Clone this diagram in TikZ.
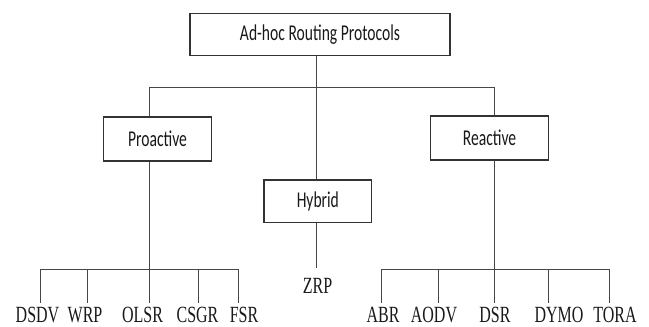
\documentclass[tikz,border=0pt]{standalone}
\usepackage{fontspec}
\usepackage{graphicx}
\setmainfont{Carlito}
\newfontfamily\lblfont{Liberation Serif}
\newcommand{\vstretch}[1]{\scalebox{1}[1.45]{#1}}
\begin{document}
\begin{tikzpicture}[x=1pt,y=1pt,
  box/.style={draw=black!80,line width=1.1pt,rectangle,inner sep=0pt,
    font=\fontsize{15.6}{18}\selectfont,text=black!90},
  conn/.style={draw=black!72,line width=0.9pt},
  leaf/.style={anchor=base,inner sep=0pt,font=\lblfont\fontsize{16}{18}\selectfont,text=black!90}]
\useasboundingbox (0,0) rectangle (649,-327);
% boxes
\node[box,minimum width=260pt,minimum height=42.4pt] (top) at (320,-34.5) {\vstretch{Ad-hoc Routing Protocols}};
\node[box,minimum width=108.4pt,minimum height=44pt] (pro) at (157.5,-139) {\vstretch{Proactive}};
\node[box,minimum width=117.6pt,minimum height=44pt] (rea) at (489.5,-138) {\vstretch{Reactive}};
\node[box,minimum width=107.7pt,minimum height=42.7pt] (hyb) at (317.85,-201.35) {\vstretch{Hybrid}};
% leaf labels
\node[leaf] (dsdv) at (37.5,-322.5) {\vstretch{DSDV}};
\node[leaf] (wrp) at (85,-322.5) {\vstretch{WRP}};
\node[leaf] (olsr) at (142.5,-322.5) {\vstretch{OLSR}};
\node[leaf] (csgr) at (197.5,-322.5) {\vstretch{CSGR}};
\node[leaf] (fsr) at (244,-322.5) {\vstretch{FSR}};
\node[leaf] (zrp) at (317.5,-293.3) {\vstretch{ZRP}};
\node[leaf] (abr) at (383,-322.5) {\vstretch{ABR}};
\node[leaf] (aodv) at (434,-322.5) {\vstretch{AODV}};
\node[leaf] (dsr) at (495,-322.5) {\vstretch{DSR}};
\node[leaf] (dymo) at (559,-322.5) {\vstretch{DYMO}};
\node[leaf] (tora) at (615,-322.5) {\vstretch{TORA}};
% coordinates
\coordinate (cx) at (316.7,-87.3);
\coordinate (px) at (149,-87.3);
\coordinate (rx) at (494.5,-87.3);
\coordinate (lbar) at (0,-269.3);
\coordinate (tickend) at (0,-302.7);
\coordinate (zend) at (316.7,-268);
\coordinate (l1) at (40.7,0);
\coordinate (l2) at (87.3,0);
\coordinate (l4) at (198,0);
\coordinate (l5) at (238.7,0);
\coordinate (r1) at (381.7,0);
\coordinate (r2) at (438.3,0);
\coordinate (r4) at (548.3,0);
\coordinate (r5) at (609.3,0);
% main connectors
\draw[conn] (top.south -| cx) -- (hyb.north -| cx);
\draw[conn] (px) -- (rx);
\draw[conn] (px) -- (pro.north -| px);
\draw[conn] (rx) -- (rea.north -| rx);
\draw[conn] (pro.south -| px) -- (lbar -| px);
\draw[conn] (rea.south -| rx) -- (lbar -| rx);
\draw[conn] (hyb.south -| cx) -- (zend);
% bars
\draw[conn] (lbar -| l1) -- (lbar -| l5);
\draw[conn] (lbar -| r1) -- (lbar -| r5);
% ticks
\foreach \t in {l1,l2,px,l4,l5,r1,r2,rx,r4,r5}{
  \draw[conn] (lbar -| \t) -- (tickend -| \t);
}
\end{tikzpicture}
\end{document}
